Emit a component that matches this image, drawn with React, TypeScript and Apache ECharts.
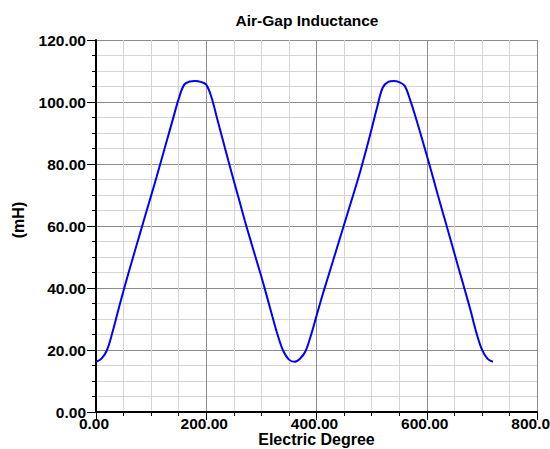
import React, { useEffect, useRef } from "react";
import * as echarts from "echarts";

const titleText = "Air-Gap Inductance";
const xAxisName = "Electric Degree";
const yAxisName = "(mH)";

const degrees = [
  0, 10, 20, 30, 40, 50, 60, 70, 80, 90, 100, 110, 120, 130, 140, 150, 160, 170, 180,
  190, 200, 210, 220, 230, 240, 250, 260, 270, 280, 290, 300, 310, 320, 330, 340, 350, 360,
  370, 380, 390, 400, 410, 420, 430, 440, 450, 460, 470, 480, 490, 500, 510, 520, 530, 540,
  550, 560, 570, 580, 590, 600, 610, 620, 630, 640, 650, 660, 670, 680, 690, 700, 710, 720,
];

const inductance = [
  16.2, 17.2, 20.0, 25.8, 32.6, 39.2, 45.5, 51.6, 57.7, 63.8, 69.8, 75.9, 82.2, 88.5, 94.8, 101.0, 105.6, 106.6, 106.8,
  106.5, 105.6, 101.2, 94.5, 87.8, 81.1, 74.6, 68.2, 61.7, 55.6, 49.6, 43.6, 37.3, 30.8, 24.6, 19.6, 16.9, 16.2,
  17.2, 19.6, 24.8, 31.0, 37.2, 43.0, 48.8, 54.6, 60.4, 66.2, 72.0, 78.0, 84.5, 91.3, 98.3, 104.6, 106.5, 106.8,
  106.4, 105.2, 100.6, 95.0, 89.0, 82.8, 76.5, 70.1, 63.8, 57.6, 51.3, 45.0, 38.8, 32.4, 25.6, 20.2, 17.2, 16.2,
];

const FONT = "Arial, 'Liberation Sans', sans-serif";

export default function App() {
  const ref = useRef<HTMLDivElement>(null);

  useEffect(() => {
    if (!ref.current) return;
    const chart = echarts.init(ref.current, undefined, { renderer: "svg" });
    const labelStyle = {
      color: "#000",
      fontFamily: FONT,
      fontWeight: "bold" as const,
      fontSize: 15.5,
    };
    chart.setOption({
      animation: false,
      backgroundColor: "#fff",
      title: {
        text: titleText,
        left: 302,
        top: 7,
        textAlign: "center",
        textStyle: { ...labelStyle, fontSize: 15.5 },
      },
      grid: {
        left: 96,
        right: 13,
        top: 40,
        bottom: 37,
        containLabel: false,
        outerBoundsMode: "none",
      },
      xAxis: {
        type: "value",
        min: 0,
        max: 800,
        interval: 200,
        name: xAxisName,
        nameLocation: "middle",
        nameGap: 19,
        nameMoveOverlap: false,
        nameTextStyle: { ...labelStyle, fontSize: 16, verticalAlign: "top" },
        axisLine: { show: true, onZero: false, lineStyle: { color: "#000", width: 2 } },
        axisTick: { show: true, length: 8, lineStyle: { color: "#000", width: 1 } },
        minorTick: { show: true, splitNumber: 4, length: 4, lineStyle: { color: "#000", width: 1 } },
        axisLabel: {
          ...labelStyle,
          margin: 3,
          padding: [0, 4, 0, 0],
          hideOverlap: false,
          formatter: (v: number) => v.toFixed(2),
        },
        splitLine: { show: true, lineStyle: { color: "#8c8c8c", width: 1 } },
        minorSplitLine: { show: true, lineStyle: { color: "#d4d4d4", width: 1 } },
      },
      yAxis: {
        type: "value",
        min: 0,
        max: 120,
        interval: 20,
        name: yAxisName,
        nameLocation: "middle",
        nameGap: 70,
        nameMoveOverlap: false,
        nameRotate: 90,
        nameTextStyle: { ...labelStyle, fontSize: 16, padding: [0, 0, 0, 12] },
        axisLine: { show: true, onZero: false, lineStyle: { color: "#000", width: 2 } },
        axisTick: { show: true, length: 9, lineStyle: { color: "#000", width: 1 } },
        minorTick: { show: true, splitNumber: 4, length: 4, lineStyle: { color: "#000", width: 1 } },
        axisLabel: {
          ...labelStyle,
          margin: 10,
          padding: [0, 0, 5, 0],
          formatter: (v: number) => v.toFixed(2),
        },
        splitLine: { show: true, lineStyle: { color: "#8c8c8c", width: 1 } },
        minorSplitLine: { show: true, lineStyle: { color: "#d4d4d4", width: 1 } },
      },
      series: [
        {
          type: "line",
          data: degrees.map((d, i) => [d, inductance[i]]),
          showSymbol: false,
          smooth: 0.35,
          lineStyle: { color: "#0000ff", width: 2 },
          itemStyle: { color: "#0000ff" },
        },
      ],
    });
    return () => chart.dispose();
  }, []);

  return (
    <div
      ref={ref}
      style={{ position: "fixed", left: 0, top: 0, width: 550, height: 449, background: "#fff" }}
    />
  );
}
